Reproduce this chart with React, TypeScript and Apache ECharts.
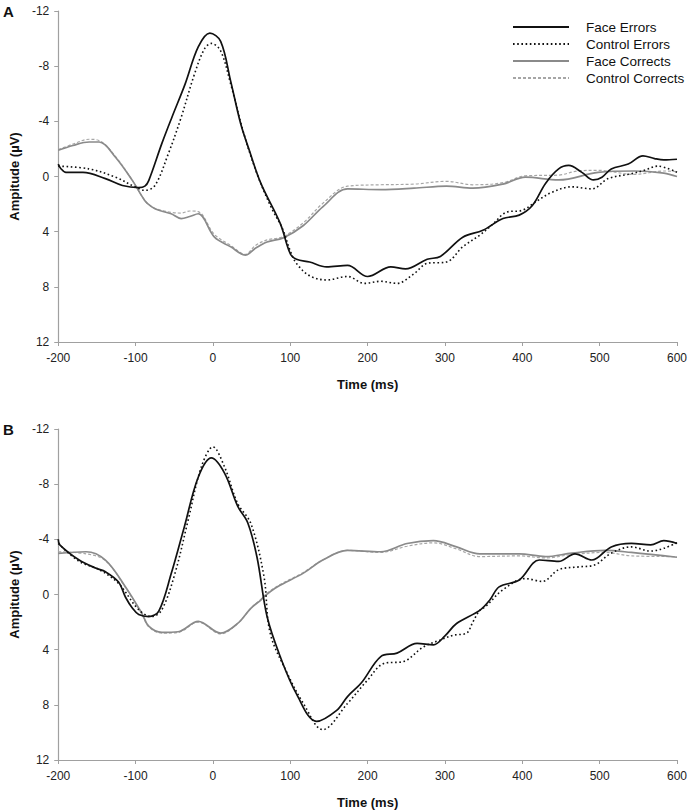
import React, { useEffect, useRef } from "react";
import * as echarts from "echarts";

// ---- Panel A ----
const aFaceErrT = [-200, -197, -190, -168, -139, -117, -96, -88, -83, -66, -53, -36, -19, -4, 10, 23, 36, 47, 62, 87, 100, 108, 125, 147, 174, 200, 230, 249, 277, 294, 323, 349, 375, 396, 413, 430, 447, 460, 477, 492, 503, 515, 537, 556, 571, 583, 600];
const aFaceErrV = [-0.9, -0.6, -0.3, -0.3, 0.15, 0.65, 0.8, 0.7, 0.3, -2.4, -4.3, -6.7, -9.4, -10.4, -9.8, -6.9, -3.8, -1.9, 0.5, 3.4, 5.6, 6.0, 6.2, 6.55, 6.45, 7.25, 6.55, 6.7, 6.0, 5.8, 4.4, 3.9, 3.05, 2.8, 2.1, 0.5, -0.55, -0.8, -0.3, 0.25, 0.05, -0.55, -0.9, -1.5, -1.3, -1.2, -1.25];

const aCtrlErrT = [-200, -160, -126, -100, -88, -75, -58, -41, -24, -11, -2, 10, 23, 40, 57, 75, 90, 100, 108, 125, 147, 174, 196, 217, 238, 260, 277, 302, 323, 345, 362, 379, 400, 417, 438, 464, 490, 511, 541, 558, 575, 600];
const aCtrlErrV = [-0.75, -0.55, 0.05, 0.77, 1.0, 0.65, -1.6, -4.3, -7.4, -9.25, -9.65, -9.1, -6.7, -3.1, -0.2, 2.2, 3.8, 5.4, 6.3, 7.2, 7.5, 7.25, 7.75, 7.6, 7.75, 7.05, 6.3, 6.2, 5.1, 4.25, 3.45, 2.6, 2.45, 1.85, 1.15, 0.75, 0.9, 0.15, -0.2, -0.45, -0.75, -0.3];

const aFaceCorT = [-200, -181, -160, -147, -126, -104, -88, -79, -70, -54, -41, -30, -19, 2, 23, 42, 55, 70, 91, 117, 142, 174, 217, 260, 302, 336, 375, 404, 447, 498, 545, 583, 600];
const aFaceCorV = [-1.9, -2.25, -2.5, -2.5, -1.4, 0.3, 1.75, 2.2, 2.45, 2.7, 3.05, 2.9, 2.7, 4.4, 5.1, 5.7, 5.2, 4.75, 4.45, 3.55, 2.2, 0.9, 0.95, 0.85, 0.7, 0.85, 0.55, 0.05, 0.25, -0.3, -0.4, -0.25, 0.0];

const aCtrlCorT = [-200, -181, -160, -147, -126, -104, -88, -79, -70, -54, -41, -30, -19, 2, 23, 42, 55, 70, 91, 117, 142, 174, 217, 260, 302, 336, 375, 404, 447, 472, 498, 545, 583, 600];
const aCtrlCorV = [-1.95, -2.35, -2.7, -2.6, -1.45, 0.3, 1.75, 2.2, 2.4, 2.6, 2.65, 2.5, 2.55, 4.2, 5.0, 5.65, 5.0, 4.6, 4.35, 3.35, 1.95, 0.7, 0.6, 0.55, 0.35, 0.6, 0.45, -0.05, -0.1, -0.4, -0.45, -0.15, -0.4, -0.35];

// ---- Panel B ----
const bFaceErrT = [-200, -198, -173, -151, -139, -122, -113, -104, -96, -83, -70, -54, -37, -19, -2, 15, 32, 45, 57, 70, 87, 108, 134, 160, 174, 192, 217, 238, 264, 285, 300, 315, 345, 358, 370, 396, 422, 447, 468, 490, 515, 541, 566, 583, 600];
const bFaceErrV = [-4.0, -3.6, -2.5, -1.9, -1.65, -0.9, 0.2, 1.0, 1.45, 1.6, 1.2, -1.5, -4.9, -8.5, -9.9, -8.8, -6.4, -5.2, -2.7, 1.6, 4.5, 7.2, 9.2, 8.4, 7.4, 6.4, 4.5, 4.25, 3.55, 3.65, 3.0, 2.1, 1.15, 0.4, -0.55, -1.05, -2.5, -2.4, -2.95, -2.5, -3.45, -3.7, -3.6, -3.9, -3.7];

const bCtrlErrT = [-200, -173, -147, -122, -96, -79, -66, -49, -32, -15, 0, 15, 32, 49, 66, 74, 96, 117, 142, 174, 200, 221, 247, 272, 294, 311, 328, 336, 345, 353, 375, 404, 426, 447, 473, 494, 515, 541, 566, 583, 600];
const bCtrlErrV = [-3.7, -2.4, -1.8, -0.8, 1.1, 1.6, 1.1, -1.55, -5.4, -9.25, -10.7, -9.25, -6.6, -5.15, -1.3, 2.8, 5.7, 7.9, 9.8, 7.9, 6.2, 5.0, 4.85, 3.8, 3.3, 2.95, 2.8, 2.0, 1.15, 0.85, -0.35, -1.15, -0.95, -1.8, -2.0, -2.15, -3.0, -3.45, -3.15, -3.35, -3.75];

const bFaceCorT = [-200, -164, -139, -113, -92, -83, -66, -45, -19, 10, 32, 49, 62, 66, 83, 117, 142, 174, 217, 251, 285, 315, 345, 396, 430, 464, 507, 541, 600];
const bFaceCorV = [-2.98, -3.1, -2.5, -0.55, 1.35, 2.3, 2.75, 2.7, 1.95, 2.8, 2.1, 1.0, 0.4, 0.15, -0.55, -1.55, -2.5, -3.2, -3.1, -3.7, -3.9, -3.45, -2.95, -2.95, -2.75, -3.0, -3.2, -3.05, -2.7];

const bCtrlCorT = [-200, -164, -139, -113, -92, -83, -66, -45, -19, 10, 32, 49, 62, 66, 83, 117, 142, 174, 217, 251, 285, 315, 345, 396, 430, 464, 507, 541, 600];
const bCtrlCorV = [-3.1, -2.95, -2.45, -0.5, 1.4, 2.35, 2.8, 2.75, 2.0, 2.85, 2.1, 1.0, 0.35, 0.1, -0.6, -1.6, -2.5, -3.2, -3.05, -3.5, -3.75, -3.3, -2.75, -2.8, -2.65, -2.9, -3.05, -2.8, -2.75];

const seriesNames = ["Face Errors", "Control Errors", "Face Corrects", "Control Corrects"];
const xTickMin = -200;
const xTickMax = 600;
const xTickStep = 100;
const yTickMin = -12;
const yTickMax = 12;
const yTickStep = 4;

const FONT = "'Liberation Sans', Arial, Helvetica, sans-serif";

const zip = (t: number[], v: number[]) => t.map((x, i) => [x, v[i]]);

export default function App() {
  const ref = useRef<HTMLDivElement>(null);

  useEffect(() => {
    if (!ref.current) return;
    const chart = echarts.init(ref.current, null, { renderer: "svg" });

    const styles: Record<string, any> = {
      "Face Errors": { color: "#111111", width: 1.7, type: "solid" },
      "Control Errors": { color: "#111111", width: 1.6, type: [1.6, 2.6] },
      "Face Corrects": { color: "#8a8a8a", width: 1.7, type: "solid" },
      "Control Corrects": { color: "#a6a6a6", width: 1.2, type: [3, 2] },
    };

    const mk = (name: string, t: number[], v: number[], idx: number, z: number) => ({
      name,
      type: "line",
      xAxisIndex: idx,
      yAxisIndex: idx,
      data: zip(t, v),
      smooth: 0.35,
      symbol: "none",
      showSymbol: false,
      z,
      color: styles[name].color,
      lineStyle: { ...styles[name] },
    });

    const xAxisBase = (gridIndex: number) => ({
      type: "value",
      gridIndex,
      min: xTickMin,
      max: xTickMax,
      interval: xTickStep,
      position: "bottom",
      name: "Time (ms)",
      nameLocation: "middle",
      nameGap: 36,
      nameTextStyle: { fontFamily: FONT, fontSize: 13, fontWeight: "bold", color: "#111" },
      axisLine: { show: true, onZero: false, lineStyle: { color: "#a0a0a0", width: 1.2 } },
      axisTick: { show: true, length: 4, lineStyle: { color: "#a0a0a0" } },
      axisLabel: { fontFamily: FONT, fontSize: 12, color: "#222", margin: 10 },
      splitLine: { show: false },
    });

    const yAxisBase = (gridIndex: number) => ({
      type: "value",
      gridIndex,
      min: yTickMin,
      max: yTickMax,
      interval: yTickStep,
      inverse: true,
      name: "Ampitude (µV)",
      nameLocation: "middle",
      nameGap: 31,
      nameRotate: 90,
      nameTextStyle: { fontFamily: FONT, fontSize: 13, fontWeight: "bold", color: "#111" },
      axisLine: { show: true, onZero: false, lineStyle: { color: "#a0a0a0", width: 1.2 } },
      axisTick: { show: true, length: 4, lineStyle: { color: "#a0a0a0" } },
      axisLabel: { fontFamily: FONT, fontSize: 12, color: "#222", margin: 9 },
      splitLine: { show: false },
    });

    chart.setOption({
      animation: false,
      backgroundColor: "#ffffff",
      grid: [
        { left: 52, width: 626, top: 11, height: 331 },
        { left: 52, width: 626, top: 429, height: 332 },
      ],
      xAxis: [xAxisBase(0), xAxisBase(1)],
      yAxis: [yAxisBase(0), yAxisBase(1)],
      legend: {
        data: seriesNames,
        orient: "vertical",
        left: 507,
        top: 15,
        itemWidth: 56,
        itemHeight: 14,
        itemGap: 3,
        itemStyle: { opacity: 0, borderWidth: 0 },
        textStyle: { fontFamily: FONT, fontSize: 13.5, color: "#111", padding: [0, 0, 0, 12] },
      },
      graphic: [
        { type: "text", left: 3, top: 4, style: { text: "A", font: `bold 15px ${FONT}`, fill: "#111" } },
        { type: "text", left: 3, top: 422, style: { text: "B", font: `bold 15px ${FONT}`, fill: "#111" } },
      ],
      series: [
        mk("Control Corrects", aCtrlCorT, aCtrlCorV, 0, 2),
        mk("Face Corrects", aFaceCorT, aFaceCorV, 0, 3),
        mk("Control Errors", aCtrlErrT, aCtrlErrV, 0, 4),
        mk("Face Errors", aFaceErrT, aFaceErrV, 0, 5),
        mk("Control Corrects", bCtrlCorT, bCtrlCorV, 1, 2),
        mk("Face Corrects", bFaceCorT, bFaceCorV, 1, 3),
        mk("Control Errors", bCtrlErrT, bCtrlErrV, 1, 4),
        mk("Face Errors", bFaceErrT, bFaceErrV, 1, 5),
      ],
    });

    return () => chart.dispose();
  }, []);

  return <div ref={ref} style={{ width: 690, height: 810, position: "absolute", left: 0, top: 0 }} />;
}
